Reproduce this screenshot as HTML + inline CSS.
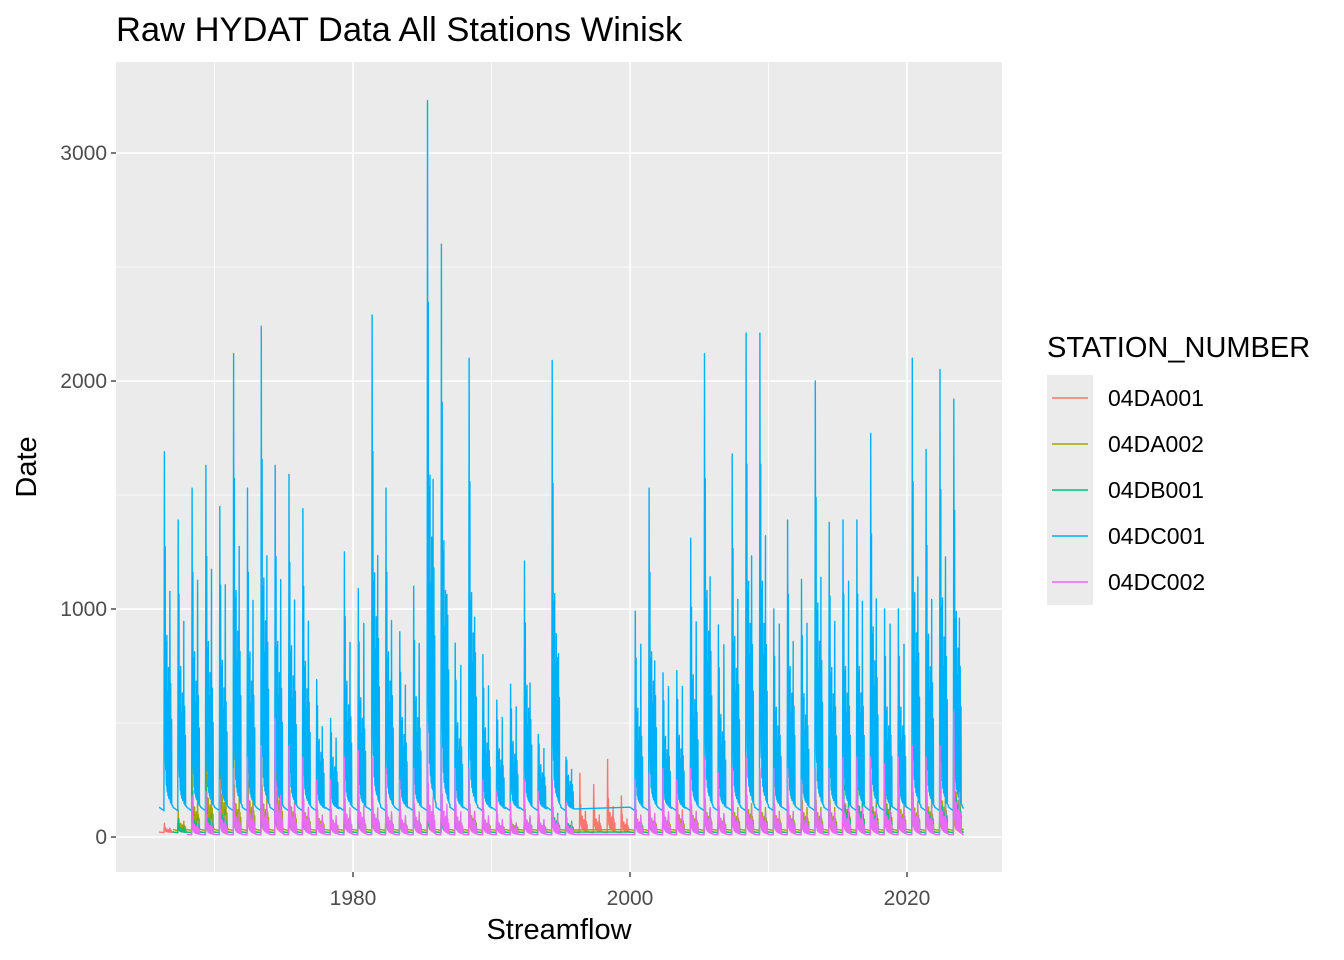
<!DOCTYPE html>
<html><head><meta charset="utf-8"><style>
body{margin:0;background:#fff;font-family:"Liberation Sans",Arial,sans-serif}
svg{display:block}
</style></head><body>
<svg id="chart" width="1344" height="960" xmlns="http://www.w3.org/2000/svg">
<rect x="0" y="0" width="1344" height="960" fill="#fff"/>
<text x="116" y="41" font-size="34.5" fill="#000">Raw HYDAT Data All Stations Winisk</text>
<rect x="116" y="62" width="886" height="810" fill="#ebebeb"/>
<g id="grid"></g>
<g id="series"></g>
<g id="axes"></g>
<text x="559" y="939" font-size="29" text-anchor="middle" fill="#000">Streamflow</text>
<text transform="translate(36,467) rotate(-90)" font-size="29" text-anchor="middle" fill="#000">Date</text>
<g id="legend"></g>
</svg>
<script>
const stations = ["04DA001","04DA002","04DB001","04DC001","04DC002"];
const colors = ["#F8766D","#A3A500","#00BF7D","#00B0F6","#E76BF3"];
const firstYear = 1966;
const xTicks = [1980,2000,2020];
const xMinor = [1970,1990,2010];
const yTicks = [0,1000,2000,3000];
const yMinor = [500,1500,2500];
const baseFlow = [20,30,20,120,10];
const peakDA001 = [60,80,150,200,260,250,230,200,250,180,200,150,120,200,200,180,200,180,200,230,200,180,200,150,120,100,150,100,180,120,280,230,340,180,230,230,200,300,180,250,200,230,210,240,190,200,150,230,180,250,200,150,200,150,250,200,230,250,80];
const peakDA002 = [null,120,400,550,600,450,500,450,650,400,300,200,150,200,200,250,200,150,200,250,200,150,250,150,100,100,150,100,150,100,null,null,null,null,150,200,200,200,250,300,200,300,350,300,250,250,300,300,300,450,400,400,450,350,380,400,500,650,300];
const peakDB001 = [null,80,200,250,300,200,300,250,350,300,200,150,150,200,200,250,200,150,200,250,200,150,250,150,100,100,200,150,250,150,null,null,null,null,200,150,200,150,200,300,200,250,300,250,200,250,200,250,250,450,450,350,400,300,350,350,450,600,200];
const peakDC001 = [1690,1390,1530,1630,1450,2120,1530,2240,1630,1590,1440,690,520,1250,1090,2290,1530,900,1100,3230,2600,850,2100,800,600,670,1210,450,2090,350,null,null,null,null,990,1530,720,730,1310,2120,930,1680,2210,2210,1000,1390,1130,2000,1380,1390,1390,1770,1000,1000,2100,1700,2050,1920,790];
const peakDC002 = [null,null,180,200,250,300,350,400,520,400,350,250,250,350,380,350,300,250,300,500,400,300,300,250,200,150,250,200,250,150,null,null,null,null,250,280,300,250,300,350,280,300,350,300,300,300,250,300,300,350,350,350,320,350,400,350,400,550,250];
const fallDC001 = [1040,900,1100,1150,1080,1250,1000,1200,1100,1000,900,400,350,800,900,1200,900,600,800,1550,1000,700,900,600,450,500,600,300,700,200,null,null,null,null,800,700,600,600,900,1100,800,1000,1200,1300,900,800,900,1100,900,1100,1000,1000,900,800,1100,1000,1200,900,790];
const peaks = [peakDA001,peakDA002,peakDB001,peakDC001,peakDC002];

const NS="http://www.w3.org/2000/svg";
const px0=116,px1=1002,py0=62,py1=872;
const xScale = y => 353 + (y-1980)*13.85;
const yScale = v => 837 - v*0.228;
function mk(tag,attrs,parent){const e=document.createElementNS(NS,tag);for(const k in attrs)e.setAttribute(k,attrs[k]);parent.appendChild(e);return e;}
const grid=document.getElementById('grid'),axes=document.getElementById('axes'),ser=document.getElementById('series'),leg=document.getElementById('legend');
xMinor.forEach(t=>{const l=mk('line',{x1:xScale(t),x2:xScale(t),y1:py0,y2:py1,stroke:'#fff','stroke-width':0.8},grid);});
yMinor.forEach(t=>{const l=mk('line',{x1:px0,x2:px1,y1:yScale(t),y2:yScale(t),stroke:'#fff','stroke-width':0.8},grid);});
xTicks.forEach(t=>{const x=xScale(t);
 const l=mk('line',{x1:x,x2:x,y1:py0,y2:py1,stroke:'#fff','stroke-width':1.6},grid);
 const tk=mk('line',{x1:x,x2:x,y1:py1,y2:py1+5,stroke:'#333','stroke-width':1.3},axes);
 const tx=mk('text',{x:x,y:905,'font-size':21,'text-anchor':'middle',fill:'#4d4d4d'},axes);tx.textContent=t;});
yTicks.forEach(t=>{const y=yScale(t);
 const l=mk('line',{x1:px0,x2:px1,y1:y,y2:y,stroke:'#fff','stroke-width':1.6},grid);
 const tk=mk('line',{x1:px0-5,x2:px0,y1:y,y2:y,stroke:'#333','stroke-width':1.3},axes);
 const tx=mk('text',{x:px0-9,y:y+7,'font-size':21,'text-anchor':'end',fill:'#4d4d4d'},axes);tx.textContent=t;});

// seasonal hydrograph template: times and relative heights of secondary events
const spikeT = [0.44,0.50,0.56,0.62,0.68,0.73,0.84,0.90];
const spikeF = [0.55,0.40,0.45,0.30,0.38,0.30,0.35,0.25];
function yearVals(peak,fall,base,dense){
 const out=[];const N=150;let mx=0;
 for(let k=0;k<N;k++){const t=k/N;let v;
  if(t<0.35) v=base*(1.1-0.4*t);
  else if(t<0.38) v=base*0.95+(peak-base*0.95)*(t-0.35)/0.03;
  else v=base+(peak-base)*Math.exp(-(t-0.38)/0.03)+peak*0.12*Math.exp(-(t-0.38)/0.25);
  spikeT.forEach((st,j)=>{v+=peak*spikeF[j]*dense*Math.exp(-Math.pow((t-st)/0.009,2));});
  if(fall!=null) v+=fall*Math.exp(-Math.pow((t-0.78)/0.012,2));
  out.push([t,v]); if(v>mx) mx=v;}
 const s=(peak-base)/Math.max(1e-6,mx-base);
 return out.map(([t,v])=>[t, v>base ? base+(v-base)*s : v]);}
peaks.forEach((arr,si)=>{
 let d='';let started=false;
 arr.forEach((p,i)=>{ if(p==null) return;
  const fall = si===3 ? fallDC001[i] : p*0.35;
  yearVals(p,fall,baseFlow[si], si===3?1:0.5).forEach(([t,v])=>{
   const yr=firstYear+i+t; if(yr>2024.1) return;
   const x=xScale(yr),y=yScale(v);
   d+=(started?'L':'M')+x.toFixed(1)+','+y.toFixed(1);started=true;});
 });
 const path=mk('path',{d:d,fill:'none',stroke:colors[si],'stroke-width':1.4,'stroke-linejoin':'round'},ser);
 
 
});
const lt=mk('text',{x:1047,y:357,'font-size':29,fill:'#000'},leg);lt.textContent='STATION_NUMBER';


stations.forEach((s,i)=>{const y=375+i*46;
 const g=mk('g',{},leg);
 
 
 mk('rect',{x:1047,y:y,width:46,height:46,fill:'#ebebeb'},g);
 mk('line',{x1:1052,x2:1088,y1:y+23,y2:y+23,stroke:colors[i],'stroke-width':1.6},g);
 const tx=mk('text',{x:1108,y:y+31,'font-size':23,fill:'#000'},g);tx.textContent=s;});
</script>
</body></html>
